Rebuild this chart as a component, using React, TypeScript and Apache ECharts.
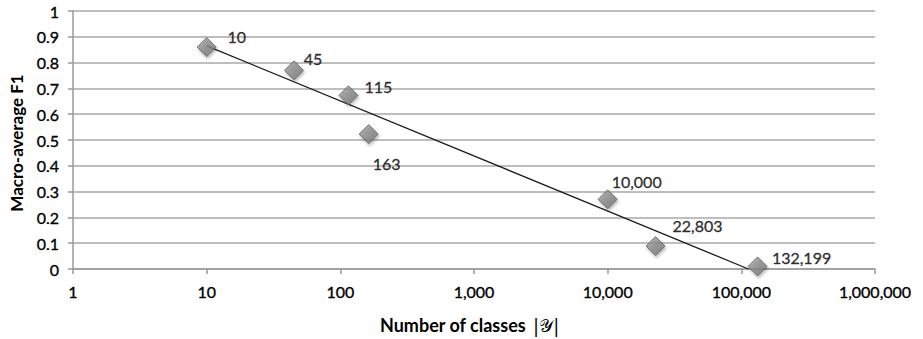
import React, { useEffect, useRef } from "react";
import * as echarts from "echarts";

const classCounts = [10, 45, 115, 163, 10000, 22803, 132199];
const macroF1 = [0.86, 0.77, 0.673, 0.523, 0.27, 0.089, 0.01];
const pointLabels = ["10", "45", "115", "163", "10,000", "22,803", "132,199"];
const trendX = [10, 113000];
const trendY = [0.865, 0];
const xTicks = [1, 10, 100, 1000, 10000, 100000, 1000000];

const labelOffsets: number[][] = [
  [30, -11],
  [19, -12],
  [30, -9],
  [18, 29],
  [29, -18],
  [42, -21],
  [44, -9],
];

const FONT = "Lato, 'Open Sans', sans-serif";
const HEAVY = { textBorderColor: "#000", textBorderWidth: 0.35 };

export default function App() {
  const ref = useRef<HTMLDivElement>(null);
  useEffect(() => {
    if (!ref.current) return;
    const chart = echarts.init(ref.current, undefined, { renderer: "svg" });
    const fmt = (v: number) => Math.round(v).toLocaleString("en-US");
    chart.setOption({
      animation: false,
      backgroundColor: "#ffffff",
      grid: { left: 73, right: 48, top: 11, bottom: 70, containLabel: false },
      xAxis: {
        type: "log",
        logBase: 10,
        min: 1,
        max: 1000000,
        axisLine: { show: true, lineStyle: { color: "#9a9a9a", width: 1.5 } },
        axisTick: { show: true, length: 5, lineStyle: { color: "#9a9a9a", width: 1.5 } },
        axisLabel: {
          color: "#000",
          fontFamily: FONT,
          fontSize: 16,
          margin: 14,
          ...HEAVY,
          formatter: (v: number) => (xTicks.includes(Math.round(v)) ? fmt(v) : ""),
        },
        splitLine: { show: false },
        minorTick: { show: false },
      },
      yAxis: {
        type: "value",
        min: 0,
        max: 1,
        interval: 0.1,
        axisLine: { show: true, lineStyle: { color: "#9a9a9a", width: 1.5 } },
        axisTick: { show: true, length: 5, lineStyle: { color: "#9a9a9a", width: 1.5 } },
        axisLabel: {
          color: "#000",
          fontFamily: FONT,
          fontSize: 16,
          margin: 14,
          ...HEAVY,
          formatter: (v: number) => (Math.round(v * 10) / 10).toString(),
        },
        splitLine: { show: true, lineStyle: { color: "#a8a8a8", width: 1.5 } },
      },
      series: [
        {
          type: "line",
          data: trendX.map((x, i) => [x, trendY[i]]),
          symbol: "none",
          lineStyle: { color: "#1a1a1a", width: 1.3 },
          z: 3,
        },
        {
          type: "scatter",
          symbol: "diamond",
          symbolSize: [19, 19],
          z: 4,
          itemStyle: {
            color: new echarts.graphic.LinearGradient(0, 0, 1, 1, [
              { offset: 0, color: "#a4a4a4" },
              { offset: 1, color: "#6e6e6e" },
            ]),
            borderColor: "#5e5e5e",
            borderWidth: 1,
            shadowColor: "rgba(0,0,0,0.35)",
            shadowBlur: 3,
            shadowOffsetX: 1,
            shadowOffsetY: 2,
          },
          data: classCounts.map((x, i) => ({
            value: [x, macroF1[i]],
            label: {
              show: true,
              position: "inside",
              offset: labelOffsets[i],
              formatter: pointLabels[i],
              color: "#000",
              fontFamily: FONT,
              fontSize: 16,
              ...HEAVY,
            },
          })),
        },
      ],
      graphic: [
        {
          type: "text",
          x: 16,
          y: 143,
          rotation: Math.PI / 2,
          style: {
            text: "Macro-average F1",
            fontFamily: FONT,
            fontWeight: "bold",
            fontSize: 17,
            fill: "#000",
            align: "center",
            verticalAlign: "middle",
          },
        },
        {
          type: "text",
          x: 380,
          y: 325,
          style: {
            text: "{b|Number of classes}  {n||𝒴|}",
            verticalAlign: "middle",
            align: "left",
            rich: {
              b: { fontFamily: FONT, fontWeight: "bold", fontSize: 18, fill: "#000" },
              n: { fontFamily: "'DejaVu Serif', 'Liberation Serif', serif", fontSize: 18, fill: "#000" },
            },
          },
        },
      ],
    });
    return () => chart.dispose();
  }, []);
  return (
    <div
      ref={ref}
      style={{ width: 923, height: 339, position: "absolute", left: 0, top: 0 }}
    />
  );
}
